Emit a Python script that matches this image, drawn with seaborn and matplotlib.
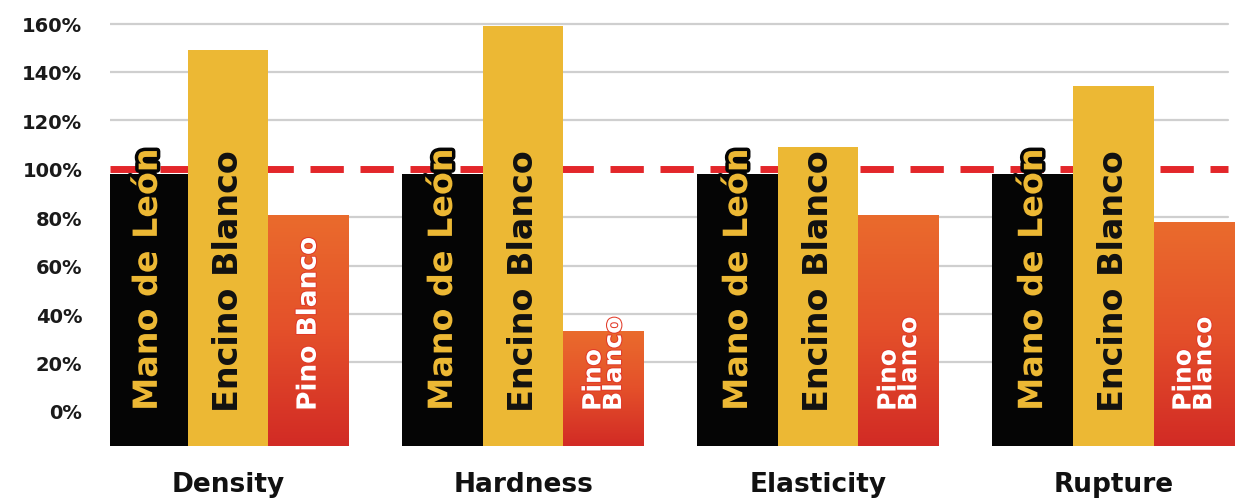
import seaborn as sns
import pandas as pd
import numpy as np
import matplotlib.pyplot as plt
import matplotlib.patheffects as pe
from matplotlib.colors import LinearSegmentedColormap

# values (percent of reference wood)
properties = ["Density", "Hardness", "Elasticity", "Rupture"]
woods = ["Mano de León", "Encino Blanco", "Pino Blanco"]
mano = [98, 98, 98, 98]
encino = [149, 159, 109, 134]
pino = [81, 33, 81, 78]
pino_labels = ["Pino Blanco", "Pino\nBlanco", "Pino\nBlanco", "Pino\nBlanco"]
y_ticks = [0, 20, 40, 60, 80, 100, 120, 140, 160]

df = pd.DataFrame({
    "property": properties * 3,
    "wood": [woods[0]] * 4 + [woods[1]] * 4 + [woods[2]] * 4,
    "value": mano + encino + pino,
})

colors = {"Mano de León": "#050505", "Encino Blanco": "#ecb834", "Pino Blanco": "#e5532a"}
pino_grad = LinearSegmentedColormap.from_list("pino", ["#d22b25", "#e4502a", "#ea6b2d"])

sns.set_style("white")
plt.rcParams["font.family"] = ["DejaVu Sans"]

fig = plt.figure(figsize=(12.54, 5.02), dpi=100)
ax = fig.add_axes([110 / 1254, 55 / 502, 1136 / 1254, 437 / 502])

baseline = -14.5
xlim = (-0.4, 3.45)
ylim = (baseline, 166)

# grid lines (no line at 0, dashed red at 100)
for v in y_ticks:
    if v in (0, 100):
        continue
    ax.axhline(v, xmax=0.984, color="#cfcfcf", lw=1.6, zorder=0)
ax.axhline(100, xmax=0.984, color="#e3262a", lw=5, dashes=(4.8, 2.4), zorder=1)

sns.barplot(data=df, x="property", y="value", hue="wood", hue_order=woods,
            palette=colors, width=0.82, saturation=1, linewidth=0,
            legend=False, ax=ax, zorder=3)

# bars start a bit below the 0% level, like the original graphic
for p in ax.patches:
    h = p.get_height()
    p.set_y(baseline)
    p.set_height(h - baseline)

# labels written inside the bars, gradient on the Pino bars
n = len(properties)
grad = np.linspace(0, 1, 100).reshape(-1, 1)
for i, p in enumerate(list(ax.patches)):
    k, j = divmod(i, n)
    xc = p.get_x() + p.get_width() / 2
    if k == 0:
        ax.text(xc, 0, woods[0], rotation=90, ha="center", va="bottom",
                fontsize=24, fontweight="bold", color="#ecb834", zorder=5,
                path_effects=[pe.withStroke(linewidth=5, foreground="#050505")])
    elif k == 1:
        ax.text(xc, 0, woods[1], rotation=90, ha="center", va="bottom",
                fontsize=24, fontweight="bold", color="#111111", zorder=5)
    else:
        x0, x1 = p.get_x(), p.get_x() + p.get_width()
        y0, y1 = p.get_y(), p.get_y() + p.get_height()
        im = ax.imshow(grad, extent=[x0, x1, y0, y1], origin="lower",
                       cmap=pino_grad, aspect="auto", zorder=3.5)
        im.set_clip_path(p)
        lab = pino_labels[j]
        fs = 19 if "\n" not in lab else 18
        ax.text(xc, 0, lab, rotation=90, ha="center", va="bottom",
                multialignment="left", linespacing=0.82,
                fontsize=fs, fontweight="bold", color="white", zorder=5,
                path_effects=[pe.withStroke(linewidth=1.5, foreground="#e23a28")])

ax.set_xlim(*xlim)
ax.set_ylim(*ylim)
ax.set_yticks(y_ticks)
ax.set_yticklabels([f"{v}%" for v in y_ticks], fontsize=14, fontweight="bold",
                   color="#1a1a1a")
ax.set_xticks(range(n))
ax.set_xticklabels(properties, fontsize=19, fontweight="bold", color="#111111")
ax.tick_params(axis="y", length=0, pad=20)
ax.tick_params(axis="x", length=0, pad=18)
ax.set_xlabel("")
ax.set_ylabel("")
sns.despine(ax=ax, left=True, bottom=True)

fig.savefig("out.png", dpi=100, facecolor="white")
